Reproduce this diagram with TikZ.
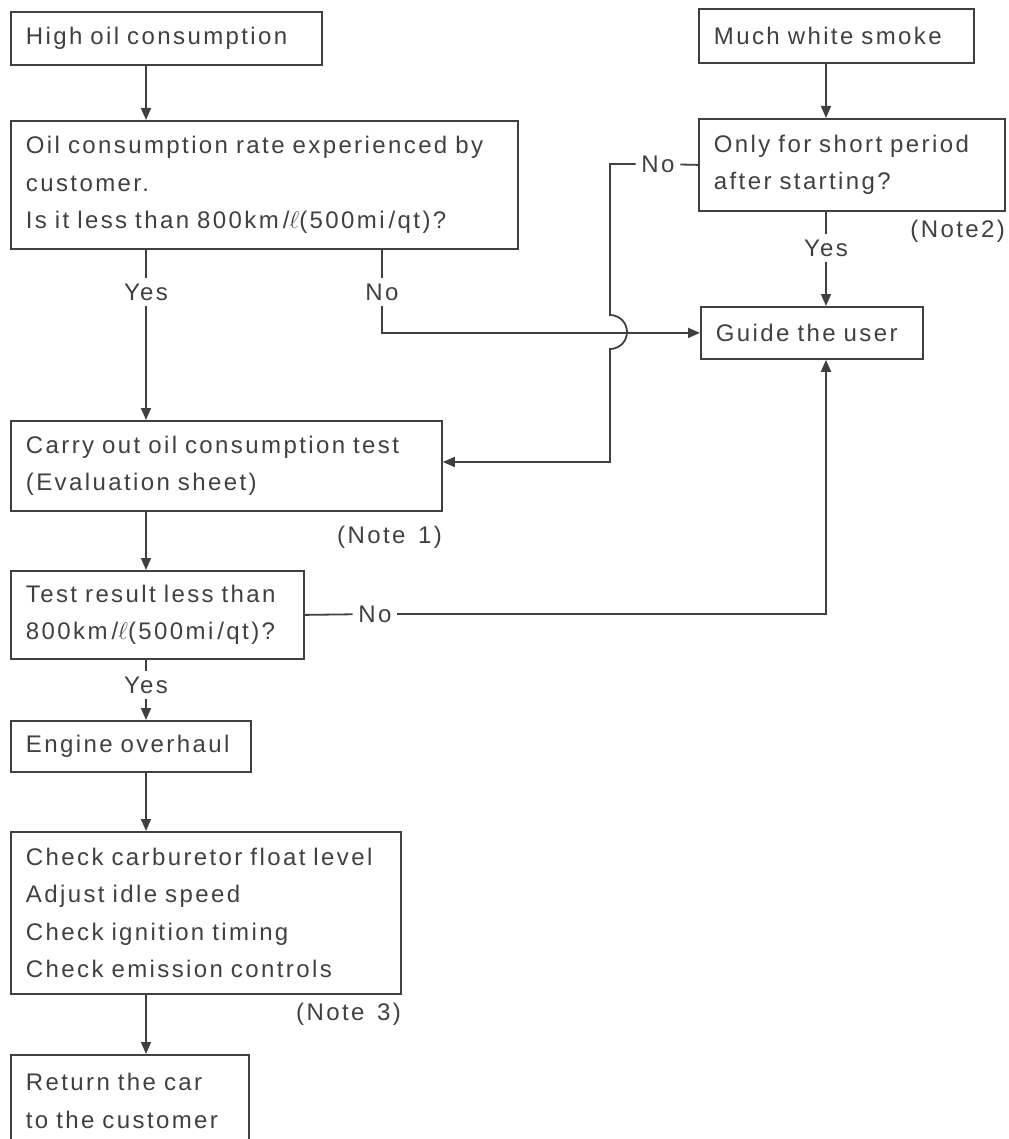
\documentclass[tikz,border=0pt]{standalone}
\usepackage{fontspec}
\setmainfont{Liberation Sans}[LetterSpace=10,WordSpace=1.4]
\usetikzlibrary{arrows.meta}
\definecolor{ink}{HTML}{404040}
\tikzset{
  box/.style 2 args={draw=ink,text=ink,anchor=north west,align=left,inner xsep=7.5pt,inner ysep=0pt,text width=#1,minimum height=#2},
  lbl/.style={text=ink,inner sep=2.5pt},
  note/.style={text=ink,inner sep=0pt,anchor=north east},
  flow/.style={draw=ink,-{Triangle[length=6pt,width=5pt]}},
  plain/.style={draw=ink}
}
\begin{document}
\begin{tikzpicture}[x=0.5pt,y=-0.5pt,line width=.9pt,font=\fontsize{12}{18.8}\selectfont]
\useasboundingbox (0,0) rectangle (1008,1139);
\clip (0,0) rectangle (1008,1139);
\coordinate (colL) at (146,0);\coordinate (colR) at (826,0);
% left column
\node[box={140.5pt}{26.5pt}] (hoc) at (10,11) {High oil consumption};
\node[box={238.5pt}{64pt}] (rate) at (10,120) {Oil consumption rate experienced by\\customer.\\Is it less than 800km\,/$\ell$(500mi\,/qt)?};
\node[box={200.5pt}{45pt}] (test) at (10,420) {Carry out oil consumption test\\(Evaluation sheet)};
\node[box={131.5pt}{44pt}] (result) at (10,570) {Test result less than\\800km\,/$\ell$(500mi\,/qt)?};
\node[box={105pt}{25.5pt}] (ovh) at (10,720) {Engine overhaul};
\node[box={180pt}{81pt}] (check) at (10,831) {Check carburetor float level\\Adjust idle speed\\Check ignition timing\\Check emission controls};
\node[box={104pt}{46pt}] (ret) at (10,1054) {Return the car\\to the customer};
% right column
\node[box={122.5pt}{27pt}] (smoke) at (698,8) {Much white smoke};
\node[box={138pt}{46pt}] (short) at (698,118) {Only for short period\\after starting?};
\node[box={96pt}{26pt}] (guide) at (700,306) {Guide the user};
% notes
\node[note,yshift=-6.5pt] (note1) at (test.south east) {(Note 1)};
\node[note,yshift=-3.5pt] (note2) at (short.south east) {(Note2)};
\node[note,yshift=-3.5pt] (note3) at (check.south east) {(Note 3)};
% labels
\node[lbl] (yes1) at (146,292) {Yes};
\node[lbl] (no1) at (382,292) {No};
\node[lbl] (no2) at (658,164) {No};
\node[lbl] (yes2) at (826,248) {Yes};
\node[lbl] (no3) at (375,614) {No};
\node[lbl] (yes3) at (146,685) {Yes};
\coordinate (hopA) at (610,315);
\coordinate (turnB) at (610,462);
% connectors
\draw[flow] (hoc.south -| colL) -- (rate.north -| colL);
\draw[plain] (rate.south -| colL) -- (yes1);
\draw[flow] (yes1) -- (test.north -| colL);
\draw[plain] (rate.south -| no1) -- (no1);
\draw[flow] (no1) -- (no1 |- guide.west) -- (guide.west);
\draw[flow] (smoke.south -| colR) -- (short.north -| colR);
\draw[plain] (short.west) -- (no2);
\draw[flow] (no2) -| (hopA) arc[start angle=90,end angle=-90,radius=8.5pt] -- (turnB) -- (test.east |- turnB);
\draw[plain] (short.south -| colR) -- (yes2);
\draw[flow] (yes2) -- (guide.north -| colR);
\draw[flow] (test.south -| colL) -- (result.north -| colL);
\draw[plain] (result.east) -- (no3);
\draw[flow] (no3) -| (guide.south -| colR);
\draw[plain] (result.south -| colL) -- (yes3);
\draw[flow] (yes3) -- (ovh.north -| colL);
\draw[flow] (ovh.south -| colL) -- (check.north -| colL);
\draw[flow] (check.south -| colL) -- (ret.north -| colL);
\end{tikzpicture}
\end{document}
